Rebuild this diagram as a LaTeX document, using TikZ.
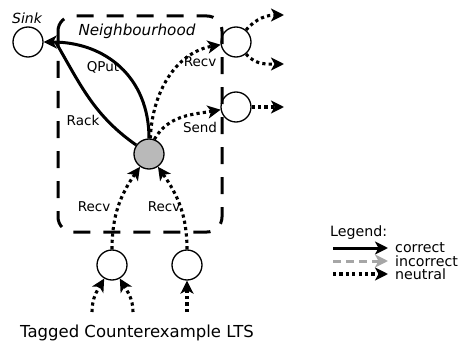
\documentclass[tikz,border=0pt]{standalone}
\usepackage{fontspec}
\setmainfont{DejaVu Sans}
\usetikzlibrary{arrows.meta}

\tikzset{
  state/.style={circle, draw, line width=1.3pt, minimum size=30pt, inner sep=0pt},
  focus/.style={state, fill=gray!55},
  tip/.style={-{Stealth[length=13pt,width=13pt,inset=3.5pt]}},
  correct/.style={tip, line width=3pt},
  correctline/.style={line width=3pt},
  incorrect/.style={tip, line width=3pt, gray!70, dash pattern=on 8pt off 5pt},
  neutral/.style={tip, line width=3.1pt, dash pattern=on 3.2pt off 3.2pt},
  lbl/.style={font=\fontsize{13.5}{14}\selectfont},
  lgd/.style={font=\fontsize{14.2}{15}\selectfont, anchor=west, inner sep=0pt}
}

\begin{document}
\begin{tikzpicture}[x=1pt, y=-1pt]
\useasboundingbox (0,0) rectangle (458,345);
\draw [line width=3pt, dash pattern=on 17pt off 13pt, rounded corners=15pt] (58,16) rectangle (222,232);
\node[font=\fontsize{15.2}{16}\selectfont\itshape] (nbh) at (137,31) {Neighbourhood};

\node[state] (sink) at (28,42) {};
\node[font=\fontsize{14}{15}\selectfont\itshape] (sinklbl) at (27,18) {Sink};
\node[focus] (me) at (149,154) {};
\node[state] (recvout) at (236,42) {};
\node[state] (sendout) at (236,107) {};
\node[state] (ina) at (112,265) {};
\node[state] (inb) at (187,265) {};

\coordinate (o1) at (284,15);
\coordinate (o2) at (284,64);
\coordinate (o3) at (284,107);
\coordinate (i1) at (92,312);
\coordinate (i2) at (133,312);
\coordinate (i3) at (187,312);

\draw [correct] (me) to[out=90, in=0, looseness=1.1] (sink);
\draw [correctline] (me) to[out=145, in=-60] ([xshift=12pt]sink.east);
\node[lbl] (qput) at (103,67) {QPut};
\node[lbl] (rack) at (83,120) {Rack};

\draw [neutral] (me.85) to[out=88, in=190] (recvout);
\draw [neutral] (me.70) to[out=60, in=190] (sendout);
\node[lbl] (recvlbl) at (200,62) {Recv};
\node[lbl] (sendlbl) at (200,127) {Send};

\draw [neutral] (recvout) to[out=50, in=180] (o1);
\draw [neutral] (recvout) to[out=-50, in=180] (o2);
\draw [neutral] (sendout) -- (o3);

\draw [neutral] (ina) to[out=90, in=-125] (me);
\draw [neutral] (inb) to[out=90, in=-55] (me);
\node[lbl] (recva) at (94,207) {Recv};
\node[lbl] (recvb) at (164,207) {Recv};

\draw [neutral] (i1) to[out=90, in=-120] (ina);
\draw [neutral] (i2) to[out=90, in=-60] (ina);
\draw [neutral] (i3) -- (inb);

\node[font=\fontsize{16.5}{17}\selectfont] (title) at (137,333) {Tagged Counterexample LTS};

\node[lgd] (legend) at (330,233) {Legend:};
\coordinate (c1) at (333,248);
\coordinate (c2) at (388,248);
\coordinate (n1) at (333,261);
\coordinate (n2) at (388,261);
\coordinate (u1) at (333,274);
\coordinate (u2) at (388,274);
\draw [correct] (c1) -- (c2);
\draw [incorrect] (n1) -- (n2);
\draw [neutral] (u1) -- (u2);
\node[lgd] (correctlbl) at (395,248) {correct};
\node[lgd] (incorrectlbl) at (395,261) {incorrect};
\node[lgd] (neutrallbl) at (395,274) {neutral};
\end{tikzpicture}
\end{document}
